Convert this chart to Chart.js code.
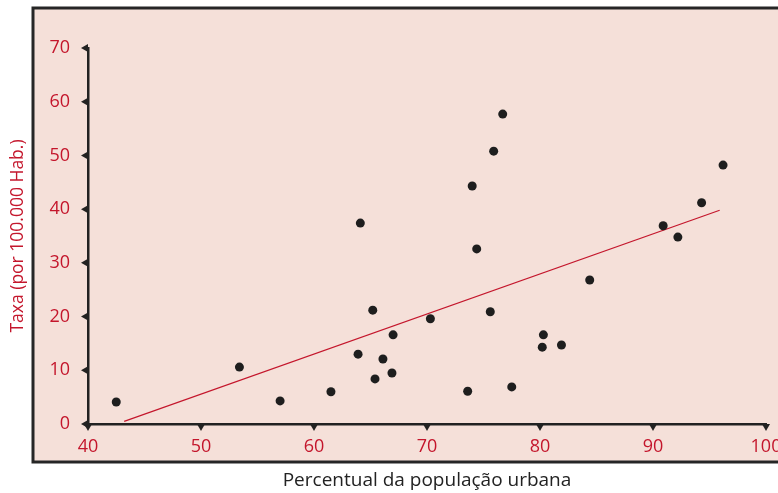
<!DOCTYPE html>
<html>
<head>
<meta charset="utf-8">
<script src="https://cdn.jsdelivr.net/npm/chart.js@4.4.1/dist/chart.umd.min.js"></script>
<style>
  body { margin: 0; background: #fff; }
  #grafico { display: block; }
</style>
</head>
<body>
<canvas id="grafico" width="778" height="493"></canvas>
<script>
// percentual de população urbana (x) e taxa por 100.000 hab. (y)
const urbano = [42.5, 53.4, 57.0, 61.5, 64.1, 63.9, 65.2, 65.4, 66.1, 66.9, 67.0, 70.3, 73.6, 74.0,
                74.4, 75.6, 75.9, 76.7, 77.5, 80.2, 80.3, 81.9, 84.4, 90.9, 92.2, 94.3, 96.2];
const taxa = [4.1, 10.6, 4.3, 6.0, 37.4, 13.0, 21.2, 8.4, 12.1, 9.5, 16.6, 19.6, 6.1, 44.3,
              32.6, 20.9, 50.8, 57.7, 6.9, 14.3, 16.6, 14.7, 26.8, 36.9, 34.8, 41.2, 48.2];

// reta de regressão (extremos)
const retaX = [43.2, 95.9];
const retaY = [0.5, 39.8];

const ticksX = [40, 50, 60, 70, 80, 90, 100];
const ticksY = [0, 10, 20, 30, 40, 50, 60, 70];

const VERMELHO = '#c4162c';
const ESCURO = '#1e1e1e';
const FONTE = '"Open Sans", Lato, sans-serif';

// moldura rosa com borda escura
const moldura = {
  id: 'moldura',
  beforeDraw(chart) {
    const ctx = chart.ctx;
    ctx.save();
    ctx.fillStyle = '#fff';
    ctx.fillRect(0, 0, chart.width, chart.height);
    ctx.fillStyle = '#f5e0d9';
    ctx.fillRect(33, 8, chart.width + 20, 454);
    ctx.strokeStyle = '#262626';
    ctx.lineWidth = 3;
    ctx.strokeRect(33, 8, chart.width + 20, 454);
    ctx.restore();
  }
};

// marcas triangulares nos eixos
const marcas = {
  id: 'marcas',
  afterDraw(chart) {
    const { ctx, scales: { x, y } } = chart;
    ctx.save();
    ctx.fillStyle = '#222';
    y.ticks.forEach(t => {
      const py = y.getPixelForValue(t.value);
      const px = x.left;
      ctx.beginPath();
      ctx.moveTo(px, py - 4);
      ctx.lineTo(px, py + 4);
      ctx.lineTo(px - 7, py);
      ctx.closePath();
      ctx.fill();
    });
    x.ticks.forEach(t => {
      const px = x.getPixelForValue(t.value);
      const py = y.bottom;
      ctx.beginPath();
      ctx.moveTo(px - 4, py);
      ctx.lineTo(px + 4, py);
      ctx.lineTo(px, py + 7);
      ctx.closePath();
      ctx.fill();
    });
    ctx.restore();
  }
};

new Chart(document.getElementById('grafico'), {
  type: 'scatter',
  data: {
    datasets: [
      {
        data: urbano.map((v, i) => ({ x: v, y: taxa[i] })),
        pointRadius: 4.5,
        pointHoverRadius: 4.5,
        backgroundColor: ESCURO,
        borderWidth: 0
      },
      {
        type: 'line',
        data: retaX.map((v, i) => ({ x: v, y: retaY[i] })),
        borderColor: VERMELHO,
        borderWidth: 1.2,
        pointRadius: 0,
        fill: false
      }
    ]
  },
  options: {
    responsive: false,
    devicePixelRatio: 1,
    animation: false,
    events: [],
    layout: { padding: { left: 0, right: 12, top: 48, bottom: 0 } },
    plugins: { legend: { display: false }, tooltip: { enabled: false } },
    scales: {
      x: {
        type: 'linear',
        min: 40,
        max: 100,
        afterBuildTicks: s => { s.ticks = ticksX.map(v => ({ value: v })); },
        afterFit: s => { s.height = 69; s.paddingLeft = 0; s.paddingRight = 0; },
        grid: { display: false, drawTicks: false },
        border: { display: true, color: '#222', width: 2.5 },
        ticks: { color: VERMELHO, padding: 12, font: { family: FONTE, size: 18 }, maxRotation: 0 },
        title: {
          display: true,
          text: 'Percentual da população urbana',
          color: '#222',
          font: { family: FONTE, size: 19 },
          padding: { top: 0, bottom: 1 }
        }
      },
      y: {
        min: 0,
        max: 70,
        afterBuildTicks: s => { s.ticks = ticksY.map(v => ({ value: v })); },
        afterFit: s => { s.width = 88; s.paddingTop = 0; s.paddingBottom = 0; },
        grid: { display: false, drawTicks: false },
        border: { display: true, color: '#222', width: 2.5 },
        ticks: { color: VERMELHO, padding: 18, font: { family: FONTE, size: 18 } },
        title: {
          display: true,
          text: 'Taxa (por 100.000 Hab.)',
          color: VERMELHO,
          font: { family: FONTE, size: 17.5 },
          padding: { top: 8, bottom: 0 }
        }
      }
    }
  },
  plugins: [moldura, marcas]
});
</script>
</body>
</html>
